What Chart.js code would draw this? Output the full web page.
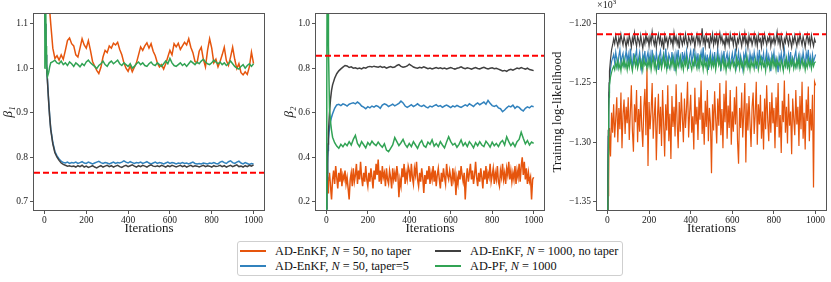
<!DOCTYPE html>
<html><head><meta charset="utf-8">
<script src="https://cdn.jsdelivr.net/npm/chart.js@4.4.1/dist/chart.umd.min.js"></script>
<style>
html,body{margin:0;padding:0;background:#fff;width:831px;height:282px;overflow:hidden;font-family:"Liberation Serif","DejaVu Serif",serif;color:#111;}
canvas.panel{position:absolute;top:0;}
#x103{position:absolute;left:597px;top:-1px;font-size:10px;color:#222;}
#x103 sup{font-size:7px;vertical-align:4px;line-height:0;}
#legend{position:absolute;left:237px;top:241px;width:386px;height:35px;border:1px solid #cfcfcf;border-radius:3px;box-sizing:border-box;background:#fff;}
#legend .sw{position:absolute;width:26px;height:2.5px;}
#legend .lb{position:absolute;font-size:12.3px;line-height:14px;white-space:nowrap;color:#111;}
</style></head><body>
<canvas id="c1" class="panel" style="left:0px" width="270" height="238"></canvas>
<canvas id="c2" class="panel" style="left:278px" width="272" height="238"></canvas>
<canvas id="c3" class="panel" style="left:550px" width="281" height="238"></canvas>
<div id="x103">×10<sup>3</sup></div>
<div id="legend"></div>
<script>
// ---------------- DATA ----------------
// coarse iteration grid (every 10 iterations after the transient)
const ITERS = [0,2,4,6,8,10,15,20,25,30,
 40,50,60,70,80,90,100,110,120,130,
 140,150,160,170,180,190,200,210,220,230,
 240,250,260,270,280,290,300,310,320,330,
 340,350,360,370,380,390,400,410,420,430,
 440,450,460,470,480,490,500,510,520,530,
 540,550,560,570,580,590,600,610,620,630,
 640,650,660,670,680,690,700,710,720,730,
 740,750,760,770,780,790,800,810,820,830,
 840,850,860,870,880,890,900,910,920,930,
 940,950,960,970,980,990,1000];
// fine iteration grid (every 5 iterations) for the noisiest traces
const ITERS5 = [0,2,4,6,8,10,15,20,25,30,35,40,45,50,55,60,65,70,75,80,85,90,95,
 100,105,110,115,120,125,130,135,140,145,150,155,160,165,170,175,180,185,190,195,
 200,205,210,215,220,225,230,235,240,245,250,255,260,265,270,275,280,285,290,295,
 300,305,310,315,320,325,330,335,340,345,350,355,360,365,370,375,380,385,390,395,
 400,405,410,415,420,425,430,435,440,445,450,455,460,465,470,475,480,485,490,495,
 500,505,510,515,520,525,530,535,540,545,550,555,560,565,570,575,580,585,590,595,
 600,605,610,615,620,625,630,635,640,645,650,655,660,665,670,675,680,685,690,695,
 700,705,710,715,720,725,730,735,740,745,750,755,760,765,770,775,780,785,790,795,
 800,805,810,815,820,825,830,835,840,845,850,855,860,865,870,875,880,885,890,895,
 900,905,910,915,920,925,930,935,940,945,950,955,960,965,970,975,980,985,990,995,
 1000];
const X_TICKS = [0,200,400,600,800,1000];

const SERIES_NAMES = ["AD-EnKF, N = 50, no taper","AD-EnKF, N = 50, taper=5","AD-EnKF, N = 1000, no taper","AD-PF, N = 1000"];

// Panel 1: beta_1
const B1_TICKS = [0.7,0.8,0.9,1.0,1.1];
const B1_TRUE = 0.765;
const B1_ORANGE = [1.45,1.40,1.35,1.31,1.27,1.24,1.19,1.155,1.13,1.10,
 1.045,1.022,1.028,1.018,1.030,1.020,1.040,1.062,1.068,1.055,
 1.050,1.030,1.025,1.045,1.066,1.052,1.045,1.062,1.040,1.015,
 1.005,0.995,0.988,1.002,1.025,1.040,1.035,1.050,1.045,1.056,
 1.052,1.058,1.042,1.030,1.012,1.000,0.993,1.005,0.992,1.002,
 1.012,1.030,1.048,1.040,1.050,1.057,1.045,1.055,1.038,1.028,
 1.012,1.003,1.008,0.998,1.010,1.025,1.040,1.030,1.055,1.048,
 1.056,1.042,1.050,1.058,1.052,1.066,1.047,1.035,1.015,1.012,
 1.038,1.047,1.020,1.003,1.040,1.066,1.045,1.012,1.020,1.003,
 1.015,1.030,1.047,1.017,1.006,1.025,1.047,1.020,0.999,1.010,
 0.990,0.985,0.992,0.986,1.003,1.036,1.010];
const B1_BLUE = [1.22,1.16,1.10,1.06,1.03,1.01,0.968,0.928,0.893,0.865,
 0.833,0.813,0.803,0.796,0.791,0.788,0.787,0.789,0.786,0.788,
 0.787,0.789,0.786,0.788,0.790,0.787,0.786,0.789,0.787,0.785,
 0.787,0.789,0.791,0.788,0.786,0.788,0.787,0.785,0.787,0.789,
 0.786,0.788,0.787,0.789,0.792,0.789,0.787,0.790,0.788,0.786,
 0.788,0.787,0.789,0.786,0.788,0.790,0.787,0.785,0.787,0.789,
 0.786,0.788,0.787,0.785,0.787,0.789,0.786,0.788,0.787,0.785,
 0.787,0.786,0.788,0.786,0.787,0.785,0.787,0.789,0.786,0.785,
 0.786,0.785,0.787,0.786,0.785,0.787,0.786,0.788,0.786,0.785,
 0.789,0.791,0.788,0.786,0.790,0.792,0.788,0.786,0.789,0.791,
 0.787,0.785,0.788,0.786,0.784,0.786,0.785];
const B1_GRAY = [1.22,1.16,1.10,1.06,1.03,1.01,0.965,0.925,0.89,0.862,
 0.830,0.810,0.800,0.793,0.787,0.784,0.782,0.780,0.781,0.779,
 0.780,0.778,0.781,0.779,0.782,0.778,0.780,0.777,0.779,0.781,
 0.778,0.776,0.779,0.781,0.778,0.780,0.782,0.779,0.781,0.778,
 0.780,0.782,0.779,0.777,0.780,0.782,0.779,0.781,0.783,0.780,
 0.778,0.781,0.779,0.782,0.780,0.778,0.781,0.783,0.780,0.779,
 0.781,0.779,0.782,0.780,0.778,0.781,0.779,0.782,0.780,0.778,
 0.780,0.782,0.779,0.781,0.778,0.780,0.782,0.779,0.781,0.780,
 0.778,0.780,0.782,0.779,0.781,0.780,0.778,0.781,0.779,0.780,
 0.782,0.779,0.781,0.778,0.780,0.782,0.779,0.781,0.783,0.779,
 0.780,0.778,0.781,0.779,0.782,0.780,0.783];
const B1_GREEN = [1.00,1.20,1.25,1.15,1.05,1.00,0.982,0.990,1.003,1.012,
 1.015,1.018,1.012,1.010,1.016,1.008,1.012,1.006,1.014,1.010,
 1.004,1.012,1.008,1.003,1.010,1.006,1.014,1.018,1.012,1.008,
 1.004,0.999,1.006,1.010,1.016,1.008,1.004,1.012,1.016,1.010,
 1.014,1.018,1.010,1.006,1.012,1.008,1.004,1.010,1.000,1.004,
 1.010,1.014,1.008,1.012,1.006,1.004,1.010,1.014,1.008,1.006,
 1.012,1.008,1.004,1.010,1.016,1.010,1.022,1.012,1.006,1.004,
 1.008,1.012,1.006,1.010,1.004,1.010,1.016,1.012,1.008,1.014,
 1.010,1.016,1.020,1.014,1.010,1.008,1.012,1.018,1.014,1.010,
 1.014,1.008,1.012,1.006,1.010,1.016,1.010,1.004,1.000,0.998,
 1.004,1.008,1.000,1.006,1.010,1.004,1.010];

// Panel 2: beta_2
const B2_TICKS = [0.2,0.4,0.6,0.8,1.0];
const B2_TRUE = 0.8556;
const B2_ORANGE = [0.25,0.30,0.27,0.31,0.24,0.29,0.33,0.27,0.21,0.30,0.34,0.28,0.36,0.31,0.26,0.33,0.29,0.35,0.27,0.32,0.30,0.34,0.28,
 0.31,0.26,0.21,0.30,0.33,0.27,0.35,0.29,0.32,0.37,0.28,0.34,0.30,0.38,0.31,0.27,0.33,0.29,0.36,0.30,
 0.27,0.33,0.29,0.35,0.31,0.26,0.34,0.30,0.37,0.32,0.39,0.29,0.34,0.28,0.36,0.31,0.33,0.27,0.35,0.30,
 0.28,0.34,0.31,0.26,0.35,0.30,0.33,0.29,0.36,0.32,0.22,0.30,0.27,0.35,0.31,0.37,0.28,0.33,0.30,0.36,
 0.34,0.29,0.37,0.31,0.28,0.35,0.32,0.38,0.30,0.27,0.33,0.29,0.35,0.31,0.24,0.32,0.28,0.34,0.30,0.36,
 0.28,0.33,0.30,0.36,0.29,0.34,0.27,0.32,0.35,0.30,0.26,0.33,0.29,0.35,0.31,0.28,0.37,0.32,0.30,0.34,
 0.31,0.27,0.35,0.30,0.33,0.23,0.31,0.28,0.34,0.30,0.36,0.32,0.29,0.33,0.21,0.30,0.35,0.29,0.33,0.37,
 0.30,0.34,0.28,0.32,0.38,0.31,0.27,0.33,0.29,0.35,0.31,0.26,0.34,0.30,0.36,0.28,0.33,0.31,0.37,0.29,
 0.32,0.35,0.28,0.33,0.30,0.36,0.29,0.27,0.34,0.31,0.37,0.30,0.33,0.28,0.35,0.32,0.38,0.30,0.34,0.29,
 0.33,0.30,0.36,0.28,0.34,0.31,0.37,0.29,0.36,0.40,0.32,0.38,0.30,0.35,0.28,0.33,0.29,0.31,0.21,0.30,
 0.31];
const B2_BLUE = [0.15,0.22,0.30,0.37,0.43,0.48,0.53,0.56,0.58,0.595,
 0.620,0.635,0.638,0.632,0.640,0.636,0.630,0.638,0.642,0.645,
 0.640,0.648,0.641,0.630,0.625,0.618,0.627,0.622,0.630,0.625,
 0.632,0.628,0.620,0.634,0.640,0.636,0.628,0.633,0.638,0.631,
 0.636,0.642,0.652,0.644,0.630,0.624,0.630,0.636,0.628,0.633,
 0.640,0.632,0.628,0.634,0.626,0.622,0.630,0.626,0.632,0.636,
 0.628,0.632,0.624,0.630,0.634,0.629,0.623,0.631,0.626,0.633,
 0.628,0.624,0.630,0.635,0.630,0.640,0.634,0.628,0.638,0.644,
 0.636,0.642,0.648,0.638,0.655,0.642,0.632,0.628,0.633,0.622,
 0.618,0.605,0.612,0.622,0.630,0.626,0.634,0.620,0.628,0.624,
 0.614,0.608,0.620,0.626,0.622,0.630,0.627];
const B2_GRAY = [0.17,0.25,0.33,0.40,0.46,0.51,0.60,0.66,0.70,0.725,
 0.755,0.775,0.788,0.797,0.805,0.812,0.810,0.803,0.806,0.800,
 0.802,0.798,0.801,0.797,0.803,0.800,0.806,0.808,0.805,0.809,
 0.806,0.804,0.808,0.803,0.806,0.800,0.804,0.807,0.803,0.805,
 0.812,0.816,0.808,0.804,0.806,0.810,0.818,0.812,0.805,0.802,
 0.800,0.804,0.801,0.806,0.802,0.798,0.801,0.797,0.800,0.803,
 0.799,0.802,0.798,0.801,0.797,0.800,0.803,0.799,0.796,0.800,
 0.802,0.806,0.801,0.798,0.802,0.799,0.796,0.800,0.803,0.799,
 0.797,0.801,0.804,0.800,0.797,0.800,0.802,0.798,0.800,0.796,
 0.792,0.788,0.790,0.786,0.792,0.795,0.791,0.796,0.801,0.798,
 0.803,0.799,0.796,0.800,0.794,0.792,0.789];
const B2_GREEN = [0.10,0.70,1.30,1.40,1.20,0.90,0.62,0.56,0.52,0.49,
 0.465,0.450,0.440,0.458,0.447,0.462,0.452,0.470,0.455,0.480,
 0.498,0.462,0.448,0.470,0.456,0.442,0.466,0.454,0.472,0.460,
 0.452,0.468,0.455,0.445,0.460,0.432,0.425,0.440,0.455,0.488,
 0.470,0.452,0.465,0.480,0.458,0.445,0.462,0.448,0.470,0.455,
 0.440,0.462,0.475,0.452,0.445,0.468,0.458,0.478,0.450,0.462,
 0.448,0.470,0.455,0.442,0.468,0.492,0.470,0.455,0.462,0.445,
 0.458,0.478,0.452,0.465,0.448,0.470,0.458,0.442,0.466,0.452,
 0.470,0.455,0.448,0.472,0.460,0.445,0.468,0.452,0.462,0.448,
 0.466,0.475,0.455,0.492,0.470,0.452,0.465,0.448,0.470,0.480,
 0.512,0.485,0.460,0.475,0.455,0.468,0.462];

// Panel 3: training log-likelihood (fine grid)
const LL_TICKS = [-1350,-1300,-1250,-1200];
const LL_TRUE = -1208.9;
const LL_ORANGE = [-1420,-1385,-1345,-1333,-1300,-1288,-1312,-1275,-1292,-1268,-1296,-1280,-1262,-1300,-1271,-1289,-1258,-1305,-1276,-1264,-1293,-1270,-1284,
 -1262,-1298,-1275,-1252,-1290,-1308,-1268,-1283,-1256,-1300,-1272,-1291,-1261,-1287,-1304,-1270,-1255,-1294,-1237,-1320,
 -1266,-1289,-1273,-1250,-1297,-1278,-1262,-1315,-1281,-1259,-1293,-1270,-1303,-1256,-1284,-1312,-1268,-1290,-1252,-1299,
 -1276,-1314,-1261,-1287,-1270,-1295,-1251,-1283,-1305,-1266,-1291,-1258,-1279,-1300,-1263,-1288,-1272,-1249,-1296,-1275,
 -1260,-1292,-1278,-1306,-1254,-1285,-1270,-1298,-1262,-1281,-1248,-1293,-1275,-1302,-1265,-1287,-1256,-1299,-1271,-1284,
 -1326,-1268,-1290,-1257,-1280,-1301,-1263,-1286,-1250,-1294,-1272,-1305,-1259,-1283,-1248,-1297,-1269,-1288,-1256,-1302,
 -1274,-1291,-1262,-1285,-1253,-1299,-1318,-1271,-1288,-1258,-1296,-1275,-1250,-1317,-1267,-1290,-1261,-1284,-1304,-1270,
 -1258,-1293,-1276,-1249,-1302,-1268,-1285,-1260,-1297,-1274,-1306,-1263,-1289,-1252,-1281,-1299,-1266,-1292,-1258,-1284,
 -1271,-1305,-1262,-1287,-1250,-1296,-1277,-1309,-1265,-1283,-1248,-1292,-1270,-1301,-1259,-1286,-1274,-1310,-1263,-1280,
 -1294,-1256,-1285,-1270,-1303,-1261,-1289,-1249,-1297,-1275,-1306,-1264,-1282,-1253,-1299,-1272,-1290,-1260,-1338,-1249,
 -1252];
const LL_BLUE = [-1400,-1335,-1295,-1272,-1258,-1248,-1238,-1232,-1229,-1226,-1233,-1224,-1230,-1236,-1227,-1222,-1234,-1228,-1225,-1237,-1229,-1223,-1232,
 -1226,-1235,-1221,-1230,-1238,-1225,-1232,-1227,-1222,-1236,-1229,-1224,-1233,-1239,-1226,-1231,-1223,-1235,-1228,-1224,
 -1233,-1226,-1237,-1222,-1230,-1228,-1235,-1224,-1231,-1239,-1227,-1223,-1234,-1229,-1225,-1236,-1221,-1231,-1238,-1226,
 -1229,-1235,-1224,-1232,-1227,-1240,-1225,-1230,-1222,-1234,-1228,-1237,-1224,-1231,-1226,-1235,-1223,-1229,-1238,-1227,
 -1223,-1232,-1228,-1221,-1236,-1226,-1233,-1225,-1238,-1229,-1224,-1231,-1220,-1235,-1227,-1233,-1226,-1239,-1229,-1224,
 -1237,-1227,-1232,-1224,-1235,-1229,-1222,-1233,-1228,-1240,-1226,-1231,-1223,-1236,-1229,-1225,-1234,-1227,-1238,-1230,
 -1225,-1233,-1228,-1221,-1236,-1230,-1224,-1235,-1227,-1232,-1238,-1226,-1230,-1223,-1234,-1229,-1237,-1225,-1231,-1227,
 -1233,-1224,-1230,-1238,-1226,-1232,-1222,-1235,-1228,-1231,-1225,-1237,-1229,-1223,-1234,-1227,-1232,-1240,-1226,-1230,
 -1224,-1236,-1229,-1233,-1241,-1227,-1231,-1225,-1235,-1228,-1222,-1234,-1230,-1238,-1226,-1232,-1224,-1236,-1229,-1233,
 -1227,-1223,-1235,-1230,-1226,-1238,-1228,-1233,-1224,-1231,-1236,-1225,-1230,-1222,-1234,-1228,-1237,-1226,-1232,-1229,
 -1226];
const LL_GRAY = [-1400,-1330,-1290,-1265,-1250,-1240,-1230,-1222,-1218,-1213,-1217,-1210,-1215,-1219,-1212,-1216,-1209,-1214,-1218,-1211,-1215,-1220,-1213,
 -1217,-1210,-1214,-1220,-1212,-1216,-1208,-1215,-1219,-1211,-1214,-1218,-1210,-1216,-1221,-1213,-1217,-1209,-1215,-1212,
 -1219,-1211,-1216,-1207,-1214,-1218,-1212,-1220,-1213,-1209,-1216,-1211,-1218,-1214,-1222,-1210,-1215,-1212,-1219,-1213,
 -1210,-1216,-1213,-1219,-1208,-1215,-1211,-1217,-1213,-1221,-1210,-1214,-1218,-1212,-1216,-1209,-1215,-1219,-1211,-1214,
 -1217,-1210,-1215,-1212,-1220,-1213,-1209,-1216,-1211,-1218,-1214,-1204,-1216,-1212,-1219,-1210,-1215,-1213,-1221,-1211,
 -1215,-1209,-1218,-1212,-1216,-1210,-1219,-1213,-1208,-1215,-1211,-1217,-1214,-1220,-1210,-1216,-1212,-1218,-1209,-1214,
 -1212,-1218,-1210,-1215,-1221,-1213,-1216,-1209,-1214,-1219,-1211,-1215,-1208,-1217,-1213,-1220,-1210,-1215,-1212,-1218,
 -1214,-1209,-1217,-1212,-1219,-1210,-1215,-1213,-1220,-1211,-1216,-1209,-1214,-1218,-1212,-1215,-1210,-1219,-1213,-1216,
 -1211,-1217,-1213,-1207,-1216,-1212,-1219,-1210,-1215,-1221,-1213,-1216,-1209,-1214,-1218,-1211,-1215,-1220,-1212,-1216,
 -1210,-1215,-1219,-1212,-1216,-1209,-1214,-1218,-1211,-1215,-1220,-1213,-1209,-1216,-1212,-1218,-1210,-1215,-1219,-1213,
 -1216];
const LL_GREEN = [-1420,-1360,-1310,-1280,-1262,-1252,-1245,-1241,-1238,-1236,-1239,-1233,-1237,-1231,-1238,-1234,-1240,-1232,-1236,-1230,-1237,-1233,-1239,
 -1232,-1237,-1230,-1235,-1240,-1233,-1228,-1236,-1231,-1238,-1234,-1229,-1237,-1232,-1239,-1230,-1235,-1233,-1238,-1231,
 -1236,-1230,-1239,-1233,-1228,-1237,-1232,-1240,-1234,-1229,-1236,-1231,-1238,-1233,-1227,-1236,-1232,-1239,-1230,-1235,
 -1238,-1231,-1235,-1229,-1237,-1233,-1240,-1230,-1236,-1232,-1228,-1237,-1233,-1239,-1231,-1235,-1229,-1238,-1234,-1230,
 -1235,-1239,-1232,-1236,-1228,-1234,-1238,-1231,-1237,-1226,-1235,-1232,-1239,-1230,-1236,-1233,-1240,-1231,-1235,-1229,
 -1237,-1232,-1236,-1230,-1239,-1233,-1228,-1235,-1231,-1238,-1234,-1229,-1237,-1232,-1240,-1233,-1236,-1230,-1238,-1234,
 -1231,-1236,-1233,-1239,-1229,-1235,-1232,-1238,-1230,-1236,-1233,-1240,-1231,-1235,-1228,-1237,-1233,-1239,-1231,-1236,
 -1233,-1238,-1230,-1235,-1232,-1239,-1234,-1229,-1237,-1231,-1236,-1233,-1240,-1230,-1235,-1232,-1238,-1231,-1236,-1229,
 -1236,-1232,-1239,-1230,-1235,-1233,-1238,-1231,-1234,-1240,-1232,-1236,-1229,-1237,-1233,-1239,-1231,-1235,-1230,-1238,
 -1233,-1237,-1231,-1236,-1229,-1238,-1234,-1230,-1236,-1232,-1239,-1233,-1237,-1230,-1235,-1232,-1238,-1231,-1236,-1233,
 -1232];

// ---------------- STYLE ----------------
const COLORS = ['#e6550d','#3182bd','#404040','#31a354'];
const FONT = '"Liberation Serif", "DejaVu Serif", serif';
const TXT = '#1a1a1a';
const SPINE = '#555555';

const refLinePlugin = {
  id: 'refLine',
  afterDatasetsDraw(chart, args, opts) {
    const a = chart.chartArea, ctx = chart.ctx;
    const y = chart.scales.y.getPixelForValue(opts.value);
    ctx.save();
    ctx.beginPath(); ctx.rect(a.left, a.top, a.right - a.left, a.bottom - a.top); ctx.clip();
    ctx.setLineDash([6, 3]);
    ctx.strokeStyle = '#ff0000'; ctx.lineWidth = 2;
    ctx.beginPath(); ctx.moveTo(a.left, y); ctx.lineTo(a.right, y); ctx.stroke();
    ctx.restore();
  }
};
const framePlugin = {
  id: 'frame',
  afterDraw(chart) {
    const a = chart.chartArea, ctx = chart.ctx;
    ctx.save();
    ctx.strokeStyle = SPINE; ctx.lineWidth = 1;
    const l = Math.round(a.left) - 0.5, r = Math.round(a.right) + 0.5;
    const t = Math.round(a.top) - 0.5, b = Math.round(a.bottom) + 0.5;
    ctx.strokeRect(l, t, r - l, b - t);
    ctx.restore();
  }
};

// series order: drawn green on top, then gray, blue, orange at the back
function makePanel(id, p) {
  const list = [
    {v: p.green,  x: p.greenX  || ITERS, c: COLORS[3], n: SERIES_NAMES[3]},
    {v: p.gray,   x: p.grayX   || ITERS, c: COLORS[2], n: SERIES_NAMES[2]},
    {v: p.blue,   x: p.blueX   || ITERS, c: COLORS[1], n: SERIES_NAMES[1]},
    {v: p.orange, x: p.orangeX || ITERS, c: COLORS[0], n: SERIES_NAMES[0]}
  ];
  return new Chart(document.getElementById(id), {
    type: 'line',
    data: {
      datasets: list.map(s => ({
        label: s.n,
        data: s.x.map((x, i) => ({x: x, y: s.v[i]})),
        borderColor: s.c, borderWidth: p.lw, pointRadius: 0, tension: 0, fill: false, clip: 0
      }))
    },
    options: {
      responsive: false, animation: false, devicePixelRatio: 1, events: [],
      layout: {padding: {top: 14, right: p.padRight, left: 0, bottom: 0}},
      plugins: {legend: {display: false}, tooltip: {enabled: false}, refLine: {value: p.ref}},
      scales: {
        x: {
          type: 'linear', min: -50, max: 1050,
          afterBuildTicks: s => { s.ticks = X_TICKS.map(v => ({value: v})); },
          afterFit: s => { s.height = 28; },
          ticks: {font: {family: FONT, size: 9.5}, color: TXT, padding: 1, maxRotation: 0, autoSkip: false, callback: v => String(v)},
          grid: {drawOnChartArea: false, drawTicks: true, tickLength: 4, color: SPINE},
          border: {display: false},
          title: {display: true, text: 'Iterations', font: {family: FONT, size: 13}, color: TXT, padding: {top: 0, bottom: 2}}
        },
        y: {
          type: 'linear', min: p.ymin, max: p.ymax,
          afterBuildTicks: s => { s.ticks = p.ticks.map(v => ({value: v})); },
          afterFit: s => { s.width = p.yw; },
          ticks: {font: {family: FONT, size: 9.5}, color: TXT, padding: 2, autoSkip: false, callback: p.fmt},
          grid: {drawOnChartArea: false, drawTicks: true, tickLength: 4, color: SPINE},
          border: {display: false},
          title: {display: true, text: p.title, font: {family: FONT, size: 13, style: p.titleStyle || 'normal'}, color: TXT, padding: {top: p.tpad, bottom: 0}}
        }
      }
    },
    plugins: [refLinePlugin, framePlugin]
  });
}

makePanel('c1', {orange: B1_ORANGE, blue: B1_BLUE, gray: B1_GRAY, green: B1_GREEN, ref: B1_TRUE,
  ymin: 0.6815, ymax: 1.1217, ticks: B1_TICKS, fmt: v => v.toFixed(1), yw: 34, padRight: 6, lw: 1.5,
  title: 'β₁', titleStyle: 'italic', tpad: 1});
makePanel('c2', {orange: B2_ORANGE, orangeX: ITERS5, blue: B2_BLUE, gray: B2_GRAY, green: B2_GREEN, ref: B2_TRUE,
  ymin: 0.163, ymax: 1.0434, ticks: B2_TICKS, fmt: v => v.toFixed(1), yw: 38, padRight: 6, lw: 1.5,
  title: 'β₂', titleStyle: 'italic', tpad: 4});
makePanel('c3', {orange: LL_ORANGE, orangeX: ITERS5, blue: LL_BLUE, blueX: ITERS5, gray: LL_GRAY, grayX: ITERS5, green: LL_GREEN, greenX: ITERS5, ref: LL_TRUE,
  ymin: -1357, ymax: -1191.9, ticks: LL_TICKS, fmt: v => '\u2212' + (Math.abs(v) / 1000).toFixed(2), yw: 47, padRight: 5, lw: 1.2,
  title: 'Training log-likelihood', tpad: 0});

// ---------------- LEGEND ----------------
const LEGEND_ITEMS = [
  {color: COLORS[0], html: 'AD-EnKF, <i>N</i> = 50, no taper', col: 0, row: 0},
  {color: COLORS[1], html: 'AD-EnKF, <i>N</i> = 50, taper=5', col: 0, row: 1},
  {color: COLORS[2], html: 'AD-EnKF, <i>N</i> = 1000, no taper', col: 1, row: 0},
  {color: COLORS[3], html: 'AD-PF, <i>N</i> = 1000', col: 1, row: 1}
];
const leg = document.getElementById('legend');
const colSw = [2, 197], colTx = [37, 232], rowC = [9, 24];
LEGEND_ITEMS.forEach(it => {
  const sw = document.createElement('div');
  sw.className = 'sw'; sw.style.background = it.color;
  sw.style.left = colSw[it.col] + 'px'; sw.style.top = (rowC[it.row] - 1.25) + 'px';
  leg.appendChild(sw);
  const lb = document.createElement('div');
  lb.className = 'lb'; lb.innerHTML = it.html;
  lb.style.left = colTx[it.col] + 'px'; lb.style.top = (rowC[it.row] - 7) + 'px';
  leg.appendChild(lb);
});
</script>
</body></html>
